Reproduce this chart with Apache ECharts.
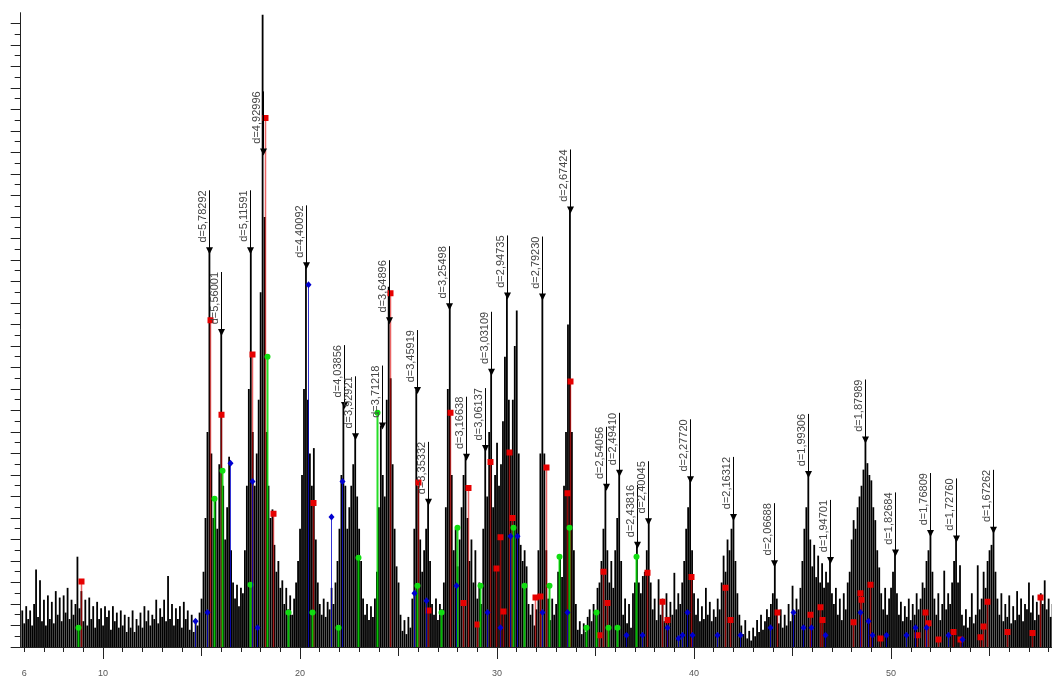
<!DOCTYPE html>
<html lang="en">
<head>
<meta charset="utf-8">
<title>XRD</title>
<style>
    html, body { margin: 0; padding: 0; background: #fff; }
    #chart { width: 1052px; height: 677px; }
</style>
</head>
<body>
<div id="chart"></div>
<script src="https://cdn.jsdelivr.net/npm/echarts@6.0.0/dist/echarts.min.js"></script>
<script>
// scan: 2theta from scanStart, one count per scanStep
var scanStart = 5.9, scanStep = 0.1;
var counts = [
    34,
    22, 38, 26, 34, 20, 40, 72, 28, 62, 24,
    44, 20, 48, 26, 42, 22, 52, 30, 46, 24,
    48, 32, 55, 26, 44, 30, 40, 84, 36, 52,
    24, 44, 20, 46, 26, 38, 18, 42, 26, 36,
    20, 38, 28, 34, 16, 38, 24, 32, 18, 34,
    20, 30, 14, 28, 18, 34, 14, 26, 20, 32,
    18, 38, 24, 34, 20, 30, 26, 44, 22, 36,
    28, 44, 24, 66, 26, 40, 20, 36, 26, 38,
    18, 42, 26, 34, 16, 30, 14, 26, 20, 32,
    45, 70, 120, 200, 369, 180, 120, 140, 110, 170,
    293, 150, 100, 130, 177, 90, 60, 45, 58, 38,
    55, 50, 90, 150, 240, 369, 200, 150, 180, 230,
    330, 588, 400, 200, 150, 120, 128, 95, 70, 80,
    55, 62, 40, 55, 35, 48, 30, 45, 60, 80,
    110, 160, 240, 355, 230, 180, 150, 185, 100, 60,
    40, 30, 45, 28, 42, 35, 55, 40, 60, 80,
    110, 160, 225, 150, 110, 130, 150, 170, 196, 140,
    110, 80, 45, 30, 40, 25, 38, 28, 45, 70,
    130, 206, 160, 140, 230, 335, 250, 170, 110, 75,
    60, 30, 15, 25, 12, 28, 18, 45, 110, 239,
    150, 100, 70, 90, 110, 135, 80, 40, 30, 45,
    25, 40, 35, 60, 130, 240, 317, 160, 90, 110,
    75, 100, 130, 160, 177, 120, 80, 100, 60, 90,
    45, 60, 40, 110, 185, 140, 200, 256, 130, 160,
    190, 150, 170, 210, 270, 327, 230, 180, 230, 280,
    313, 180, 95, 80, 90, 75, 40, 30, 40, 20,
    35, 90, 180, 326, 180, 90, 45, 25, 45, 30,
    40, 70, 83, 65, 150, 200, 300, 407, 200, 90,
    40, 16, 24, 12, 22, 14, 28, 35, 24, 40,
    30, 55, 60, 80, 110, 149, 90, 60, 80, 55,
    90, 120, 162, 80, 30, 45, 22, 40, 18, 50,
    60, 95, 60, 50, 66, 70, 90, 117, 60, 35,
    45, 25, 63, 30, 45, 24, 50, 28, 42, 30,
    69, 35, 50, 40, 60, 80, 110, 130, 156, 90,
    50, 30, 45, 24, 38, 26, 55, 30, 42, 24,
    35, 28, 45, 35, 60, 85, 70, 100, 90, 110,
    121, 80, 50, 30, 20, 12, 25, 8, 15, 6,
    18, 10, 25, 14, 30, 16, 24, 35, 28, 40,
    50, 78, 45, 22, 35, 18, 30, 20, 40, 24,
    57, 30, 45, 35, 55, 80, 110, 130, 161, 100,
    75, 95, 65, 85, 60, 78, 55, 70, 60, 81,
    50, 40, 55, 30, 45, 25, 50, 35, 60, 70,
    100, 118, 110, 130, 140, 150, 165, 193, 171, 160,
    155, 130, 118, 90, 74, 50, 35, 55, 30, 45,
    55, 70, 88, 50, 30, 42, 24, 38, 28, 45,
    25, 40, 30, 50, 35, 45, 60, 55, 80, 90,
    106, 70, 45, 30, 50, 25, 40, 71, 35, 50,
    40, 60, 80, 101, 60, 76, 30, 20, 35, 18,
    28, 50, 22, 30, 76, 35, 45, 70, 55, 80,
    90, 95, 109, 70, 45, 30, 50, 24, 40, 28,
    48, 22, 38, 25, 52, 30, 45, 24, 40, 35,
    60, 32, 48, 25, 42, 30, 50, 40, 62, 35,
    45, 28, 40
];

// marked peaks
var peakTheta = [15.40, 15.97, 17.46, 18.14, 20.30, 22.23, 22.79, 24.15, 24.53, 25.92, 26.51, 27.56, 28.41, 29.39, 29.68, 30.49,
    32.27, 33.71, 35.53, 36.21, 37.09, 37.65, 39.80, 42.00, 44.08, 45.77, 46.90, 48.68, 50.20, 51.98, 53.28, 55.16];
var peakCounts = [369, 293, 369, 461, 355, 225, 196, 206, 304, 239, 135, 317, 177, 185, 256, 327,
    326, 407, 149, 162, 95, 117, 156, 121, 78, 161, 81, 193, 88, 106, 101, 109];
var dLabels = ['5,78292', '5,56001', '5,11591', '4,92996', '4,40092', '4,03856', '3,92921', '3,71218', '3,64896', '3,45919',
    '3,35332', '3,25498', '3,16638', '3,06137', '3,03109', '2,94735', '2,79230', '2,67424', '2,54056', '2,49410', '2,43816',
    '2,40045', '2,27720', '2,16312', '2,06688', '1,99306', '1,94701', '1,87989', '1,82684', '1,76809', '1,72760', '1,67262'];

// reference phases [2theta, counts]
var redSticks = [
    [8.88, 61], [15.43, 304], [15.99, 216], [17.56, 272], [18.22, 492], [18.63, 124], [20.66, 134],
    [24.57, 329], [25.99, 153], [26.50, 34], [27.61, 218], [28.27, 41], [28.53, 148], [28.98, 21],
    [29.64, 172], [29.95, 73], [30.15, 102], [30.30, 33], [30.61, 181], [30.76, 120], [31.93, 46],
    [32.18, 47], [32.49, 167], [33.55, 143], [33.71, 247], [35.18, 11], [35.38, 70], [35.58, 41],
    [37.61, 69], [38.38, 42], [38.63, 25], [39.85, 65], [41.57, 55], [41.83, 25], [44.21, 32],
    [45.89, 30], [46.40, 37], [46.50, 25], [48.07, 23], [48.43, 50], [48.48, 44], [48.93, 58],
    [49.44, 8], [51.32, 11], [51.73, 32], [51.88, 22], [52.39, 7], [53.15, 14], [53.50, 7],
    [54.52, 9], [54.67, 19], [54.87, 42], [55.89, 14], [57.16, 13], [57.56, 46]
];
var greenSticks = [
    [8.73, 18], [15.63, 138], [16.04, 164], [17.46, 58], [18.32, 270], [19.39, 32], [20.61, 32],
    [21.93, 18], [22.94, 83], [23.93, 218], [25.94, 57], [27.16, 32], [27.97, 111], [29.14, 57],
    [30.81, 111], [31.37, 57], [32.64, 57], [33.15, 84], [33.65, 111], [34.52, 18], [35.03, 32],
    [35.63, 18], [36.09, 18], [37.06, 84]
];
var blueSticks = [
    [14.67, 24], [15.28, 32], [16.45, 171], [17.56, 154], [17.79, 18], [20.41, 337], [21.57, 121],
    [22.13, 154], [25.76, 50], [26.37, 43], [27.92, 57], [29.47, 32], [30.15, 18], [30.66, 103],
    [31.02, 103], [32.28, 32], [33.55, 32], [36.55, 11], [37.36, 11], [38.63, 18], [39.19, 8],
    [39.39, 11], [39.64, 32], [39.90, 11], [41.17, 11], [42.34, 11], [43.86, 18], [45.03, 32],
    [45.53, 18], [45.94, 18], [46.65, 11], [48.43, 32], [48.83, 24], [49.04, 11], [49.75, 11],
    [50.76, 11], [51.22, 18], [51.78, 18], [52.89, 11], [53.60, 7]
];

var xLabelValues = [6, 10, 20, 30, 40, 50];
var xMajorTicks = [10, 20, 30, 40, 50];
var xMidTicks = [15, 25, 35, 45, 55];
var xMin = 5.82, xMax = 58.17, yMax = 590;

var xMinorTicks = [];
for (var t = 6; t <= 58; t++) { if (t % 5 !== 0) xMinorTicks.push(t); }
var yMajorTicks = [], yMinorTicks = [];
for (var v = 0; v <= 580; v += 20) { yMajorTicks.push(v); if (v + 10 < yMax) yMinorTicks.push(v + 10); }

var scanData = counts.map(function (c, i) { return [+(scanStart + i * scanStep).toFixed(2), c]; });
var peakData = peakTheta.map(function (t, i) { return [t, peakCounts[i]]; });

function stickRenderer(marker, lineColor, fillColor, lw) {
    return function (params, api) {
        var top = api.coord([api.value(0), api.value(1)]);
        var base = api.coord([api.value(0), 0]);
        var x = Math.round(top[0]) + 0.5, y = top[1];
        var m;
        if (marker === 'square') {
            m = { type: 'rect', shape: { x: x - 3, y: y - 3, width: 6, height: 6 }, style: { fill: fillColor } };
        } else if (marker === 'circle') {
            m = { type: 'circle', shape: { cx: x, cy: y, r: 3 }, style: { fill: fillColor } };
        } else {
            m = { type: 'polygon', shape: { points: [[x, y - 3.5], [x + 3, y], [x, y + 3.5], [x - 3, y]] }, style: { fill: fillColor } };
        }
        return {
            type: 'group',
            children: [
                { type: 'line', shape: { x1: x, y1: base[1], x2: x, y2: y }, style: { stroke: lineColor, lineWidth: lw } },
                m
            ]
        };
    };
}

function peakRenderer(params, api) {
    var p = api.coord([api.value(0), api.value(1)]);
    var x = Math.round(p[0]) + 0.5, y = p[1];
    return {
        type: 'group',
        children: [
            { type: 'line', shape: { x1: x, y1: y, x2: x, y2: y - 60 }, style: { stroke: '#000', lineWidth: 1 } },
            { type: 'polygon', shape: { points: [[x - 3.5, y - 3], [x + 3.5, y - 3], [x, y + 4]] }, style: { fill: '#000' } },
            {
                type: 'text', x: x - 1.5, y: y - 60, rotation: Math.PI / 2,
                style: {
                    text: 'd=' + dLabels[params.dataIndex], fontSize: 11, fontFamily: 'Liberation Sans',
                    fill: '#444', align: 'right', verticalAlign: 'bottom'
                }
            }
        ]
    };
}

function xAxisBase(ticks, len) {
    return {
        type: 'value', min: xMin, max: xMax, position: 'bottom',
        axisLine: { show: false },
        axisTick: { show: true, customValues: ticks, length: len, lineStyle: { color: '#222' } },
        axisLabel: { show: false },
        splitLine: { show: false }
    };
}

var xMain = xAxisBase(xMajorTicks, 12);
xMain.axisLine = { show: true, onZero: false, lineStyle: { color: '#222', width: 1 } };
xMain.axisLabel = { show: true, customValues: xLabelValues, fontSize: 9, color: '#555', margin: 22, fontFamily: 'Liberation Sans' };

var chart = echarts.init(document.getElementById('chart'));
chart.setOption({
    animation: false,
    backgroundColor: '#fff',
    grid: { left: 20.7, right: 0, top: 12.7, bottom: 30, containLabel: false, outerBoundsMode: 'none' },
    xAxis: [xMain, xAxisBase(xMidTicks, 9), xAxisBase(xMinorTicks, 5)],
    yAxis: [{
        type: 'value', min: 0, max: yMax, position: 'left',
        axisLine: { show: true, onZero: false, lineStyle: { color: '#222', width: 1 } },
        axisTick: { show: true, customValues: yMajorTicks, length: 10, lineStyle: { color: '#222' } },
        axisLabel: { show: false },
        splitLine: { show: false }
    }, {
        type: 'value', min: 0, max: yMax, position: 'left',
        axisLine: { show: false },
        axisTick: { show: true, customValues: yMinorTicks, length: 6, lineStyle: { color: '#222' } },
        axisLabel: { show: false },
        splitLine: { show: false }
    }],
    series: [{
        type: 'bar', name: 'scan', data: scanData, barWidth: 1.8,
        itemStyle: { color: '#000' }, silent: true, z: 2
    }, {
        type: 'custom', name: 'phase1', data: redSticks, z: 3, clip: true,
        renderItem: stickRenderer('square', 'rgba(220,0,0,0.6)', '#e60000', 1.5)
    }, {
        type: 'custom', name: 'phase2', data: greenSticks, z: 3, clip: true,
        renderItem: stickRenderer('circle', 'rgba(0,215,0,0.85)', '#11dd11', 2)
    }, {
        type: 'custom', name: 'phase3', data: blueSticks, z: 3, clip: true,
        renderItem: stickRenderer('diamond', 'rgba(0,0,200,0.8)', '#0000d0', 1)
    }, {
        type: 'custom', name: 'peaks', data: peakData, z: 4,
        renderItem: peakRenderer
    }]
});
</script>
</body>
</html>
